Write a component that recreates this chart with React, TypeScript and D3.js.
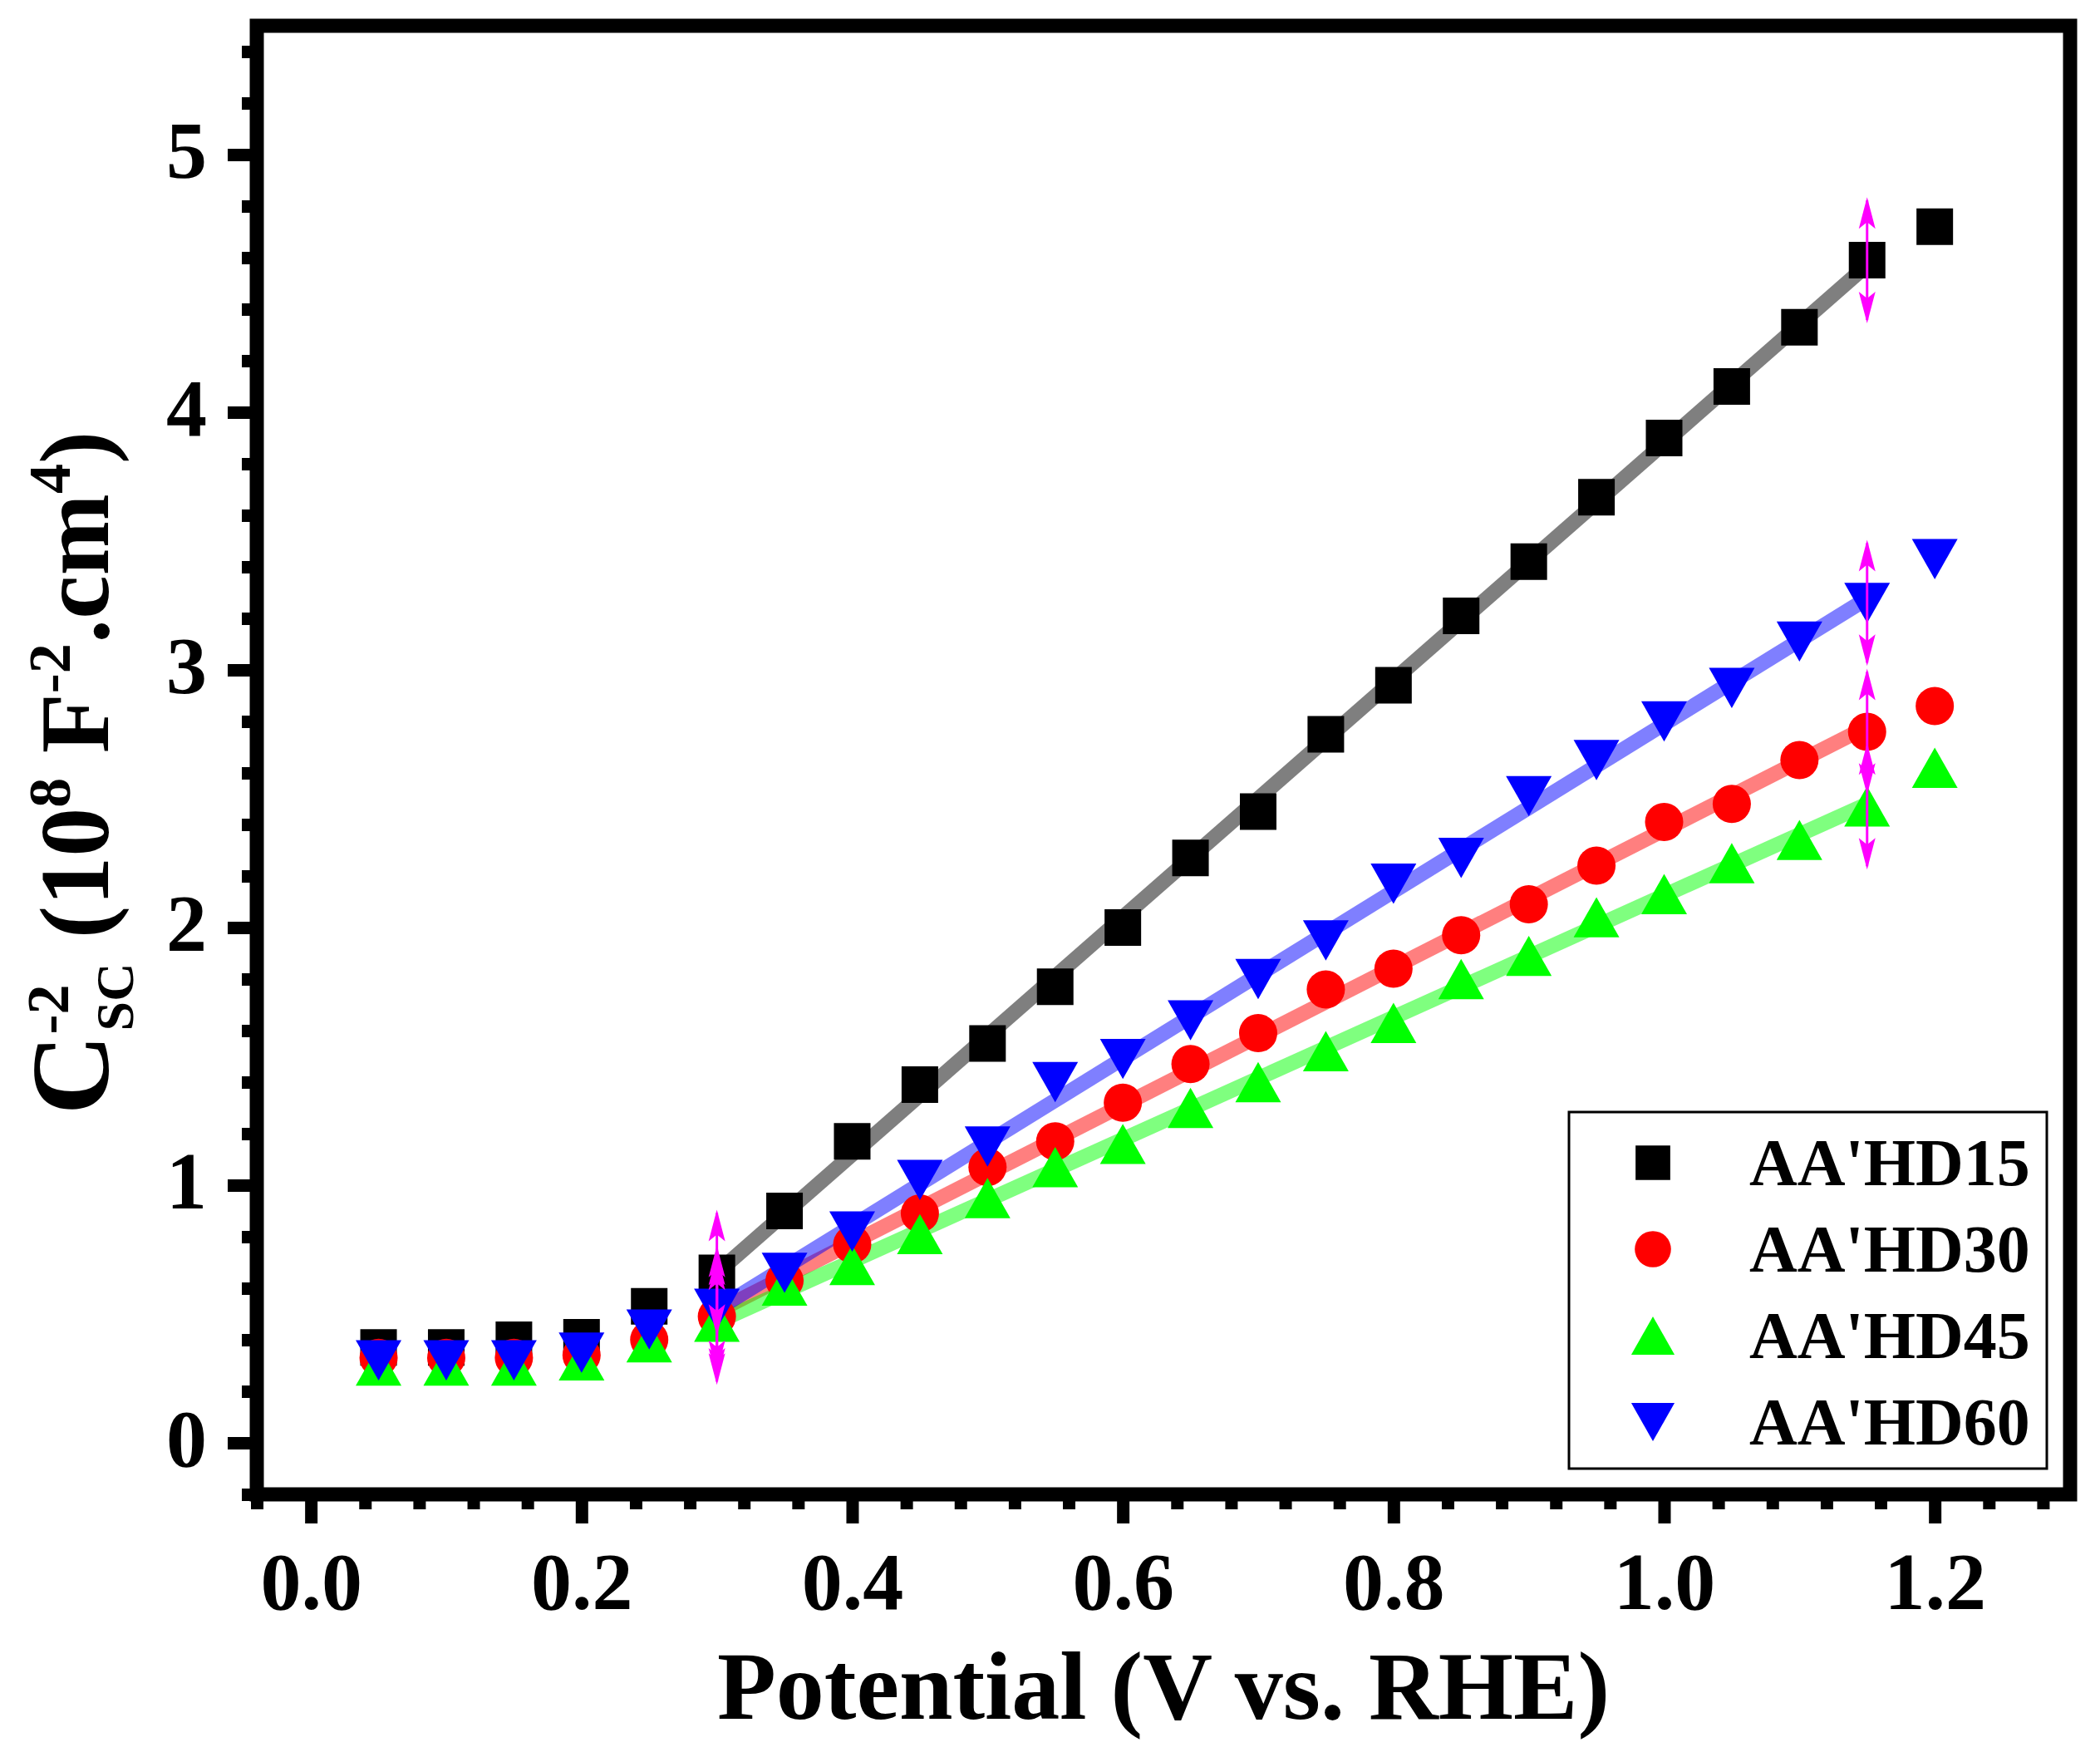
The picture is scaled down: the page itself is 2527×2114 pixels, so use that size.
import React, { useEffect, useRef } from "react";
import * as d3 from "d3";

// potential (V vs. RHE) of every measured point
const potential = [0.05, 0.10, 0.15, 0.20, 0.25, 0.30, 0.35, 0.40, 0.45, 0.50, 0.55, 0.60,
    0.65, 0.70, 0.75, 0.80, 0.85, 0.90, 0.95, 1.00, 1.05, 1.10, 1.15, 1.20];

// C_sc^-2 (10^8 F^-2 cm^4) for each sample
const hd15 = [0.37, 0.37, 0.40, 0.41, 0.53, 0.66, 0.90, 1.17, 1.39, 1.55, 1.77, 2.00,
    2.27, 2.45, 2.75, 2.94, 3.21, 3.42, 3.67, 3.90, 4.10, 4.33, 4.59, 4.72];
const hd30 = [0.33, 0.33, 0.33, 0.34, 0.40, 0.49, 0.63, 0.77, 0.89, 1.07, 1.17, 1.32,
    1.47, 1.59, 1.76, 1.84, 1.97, 2.09, 2.24, 2.41, 2.48, 2.65, 2.76, 2.86];
const hd45 = [0.30, 0.30, 0.30, 0.32, 0.39, 0.47, 0.61, 0.69, 0.81, 0.95, 1.07, 1.16,
    1.30, 1.40, 1.52, 1.63, 1.80, 1.89, 2.04, 2.13, 2.25, 2.34, 2.47, 2.62];
const hd60 = [0.32, 0.32, 0.32, 0.35, 0.44, 0.52, 0.66, 0.82, 1.02, 1.15, 1.40, 1.49,
    1.64, 1.80, 1.95, 2.17, 2.27, 2.51, 2.65, 2.80, 2.93, 3.11, 3.26, 3.43];

const seriesNames = ["AA'HD15", "AA'HD30", "AA'HD45", "AA'HD60"];
const seriesValues = [hd15, hd30, hd45, hd60];
const seriesColors = ["#000000", "#ff0000", "#00ff00", "#0000ff"];

// linear fit window (marked by the magenta arrows)
const fitRange = [0.30, 1.15];

const xTickLabels = ["0.0", "0.2", "0.4", "0.6", "0.8", "1.0", "1.2"];
const yTickLabels = ["0", "1", "2", "3", "4", "5"];

const WIDTH = 2527;
const HEIGHT = 2114;
const FONT = "'Liberation Serif', 'Times New Roman', serif";

// triangles as Origin draws them (wider than tall, centred on the bbox)
const triUp: d3.SymbolType = {
    draw(ctx, size) {
        const w = Math.sqrt(size);
        const h = w * 0.88;
        ctx.moveTo(0, -h / 2);
        ctx.lineTo(w / 2, h / 2);
        ctx.lineTo(-w / 2, h / 2);
        ctx.closePath();
    }
};
const triDown: d3.SymbolType = {
    draw(ctx, size) {
        const w = Math.sqrt(size);
        const h = w * 0.88;
        ctx.moveTo(0, h / 2);
        ctx.lineTo(w / 2, -h / 2);
        ctx.lineTo(-w / 2, -h / 2);
        ctx.closePath();
    }
};
const symbolTypes = [d3.symbolSquare, d3.symbolCircle, triUp, triDown];
const symbolSizes = [44 * 44, Math.PI * 23 * 23, 55 * 55, 55 * 55];

export default function App() {
    const svgRef = useRef<SVGSVGElement | null>(null);

    const x = d3.scaleLinear().domain([-0.04, 1.30]).range([309, 2491]);
    const y = d3.scaleLinear().domain([-0.2, 5.5]).range([1798, 31]);

    useEffect(() => {
        if (!svgRef.current) return;
        const svg = d3.select(svgRef.current);
        const plot = svg.select<SVGGElement>("g.plot");
        plot.selectAll("*").remove();

        // least-squares fit over the window
        const fits = seriesValues.map(vals => {
            const pts = potential
                .map((p, i) => [p, vals[i]])
                .filter(d => d[0] >= fitRange[0] - 1e-6 && d[0] <= fitRange[1] + 1e-6);
            const mx = d3.mean(pts, d => d[0]) as number;
            const my = d3.mean(pts, d => d[1]) as number;
            const sxy = d3.sum(pts, d => (d[0] - mx) * (d[1] - my));
            const sxx = d3.sum(pts, d => (d[0] - mx) ** 2);
            const slope = sxy / sxx;
            return { slope, intercept: my - slope * mx };
        });

        fits.forEach((f, s) => {
            plot.append("line")
                .attr("x1", x(fitRange[0]))
                .attr("y1", y(f.intercept + f.slope * fitRange[0]))
                .attr("x2", x(fitRange[1]))
                .attr("y2", y(f.intercept + f.slope * fitRange[1]))
                .attr("stroke", seriesColors[s])
                .attr("stroke-opacity", 0.5)
                .attr("stroke-width", 18);
        });

        // markers
        seriesValues.forEach((vals, s) => {
            const sym = d3.symbol().type(symbolTypes[s]).size(symbolSizes[s]);
            plot.append("g")
                .selectAll("path")
                .data(vals)
                .join("path")
                .attr("transform", (d, i) => `translate(${x(potential[i])},${y(d)})`)
                .attr("d", sym() as string)
                .attr("fill", seriesColors[s]);
        });

        // magenta double arrows at both ends of the fit window
        const half = 0.245;
        const headLen = 38;
        const headW = 20;
        fitRange.forEach(fx => {
            const idx = potential.findIndex(p => Math.abs(p - fx) < 1e-6);
            seriesValues.forEach(vals => {
                const cx = x(fx);
                const top = y(vals[idx] + half);
                const bot = y(vals[idx] - half);
                const g = plot.append("g").attr("fill", "#ff00ff").attr("stroke", "#ff00ff");
                g.append("line")
                    .attr("x1", cx).attr("x2", cx)
                    .attr("y1", top + 4).attr("y2", bot - 4)
                    .attr("stroke-width", 3);
                g.append("path")
                    .attr("stroke", "none")
                    .attr("d", `M${cx},${top}L${cx + headW / 2},${top + headLen}L${cx},${top + headLen - 8}L${cx - headW / 2},${top + headLen}Z`);
                g.append("path")
                    .attr("stroke", "none")
                    .attr("d", `M${cx},${bot}L${cx + headW / 2},${bot - headLen}L${cx},${bot - headLen + 8}L${cx - headW / 2},${bot - headLen}Z`);
            });
        });

        // axes
        const axes = svg.select<SVGGElement>("g.axes");
        axes.selectAll("*").remove();

        const xMajor = xTickLabels.map(Number);
        const yMajor = yTickLabels.map(Number);
        const xMinor = d3.range(-0.04, 1.30, 0.04).filter(v => !xMajor.some(m => Math.abs(m - v) < 1e-6));
        const yMinor = d3.range(-0.2, 5.5, 0.2).filter(v => !yMajor.some(m => Math.abs(m - v) < 1e-6));

        const styleAxis = (g: d3.Selection<SVGGElement, unknown, null, undefined>) => {
            g.select(".domain").remove();
            g.selectAll("line").attr("stroke", "#000").attr("stroke-width", 15);
            g.attr("font-family", FONT).attr("font-size", 98).attr("font-weight", "bold");
            g.selectAll("text").attr("fill", "#000");
        };

        const xg = axes.append("g").attr("transform", `translate(0,${y(-0.2)})`);
        xg.append("g")
            .call(d3.axisBottom(x).tickValues(xMinor).tickSize(18).tickFormat(() => ""))
            .call(styleAxis);
        xg.append("g")
            .call(d3.axisBottom(x).tickValues(xMajor).tickSize(35).tickFormat((d, i) => xTickLabels[i]))
            .call(styleAxis)
            .selectAll("text")
            .attr("y", 138)
            .attr("dy", 0);

        const yg = axes.append("g").attr("transform", `translate(${x(-0.04)},0)`);
        yg.append("g")
            .call(d3.axisLeft(y).tickValues(yMinor).tickSize(18).tickFormat(() => ""))
            .call(styleAxis);
        yg.append("g")
            .call(d3.axisLeft(y).tickValues(yMajor).tickSize(35).tickFormat((d, i) => yTickLabels[i]))
            .call(styleAxis)
            .selectAll("text")
            .attr("x", -60)
            .attr("dy", 27);

        // legend symbols
        const legend = svg.select<SVGGElement>("g.legend-symbols");
        legend.selectAll("*").remove();
        seriesNames.forEach((name, s) => {
            legend.append("path")
                .attr("transform", `translate(1989,${1399 + s * 104})`)
                .attr("d", d3.symbol().type(symbolTypes[s]).size(symbolSizes[s] * 0.9)() as string)
                .attr("fill", seriesColors[s]);
        });
    }, []);

    const x0 = x(-0.04), x1 = x(1.30), y0 = y(5.5), y1 = y(-0.2);

    return (
        <svg
            ref={svgRef}
            width={WIDTH}
            height={HEIGHT}
            viewBox={`0 0 ${WIDTH} ${HEIGHT}`}
            style={{ position: "absolute", left: 0, top: 0, background: "#fff" }}
        >
            <rect x={0} y={0} width={WIDTH} height={HEIGHT} fill="#fff" />
            <g className="plot" />
            <g className="axes" />
            <rect x={x0} y={y0} width={x1 - x0} height={y1 - y0}
                fill="none" stroke="#000" strokeWidth={17} />

            {/* legend */}
            <rect x={1888} y={1338} width={575} height={429} fill="#fff" stroke="#000" strokeWidth={3} />
            <g className="legend-symbols" />
            {seriesNames.map((name, s) => (
                <text key={name} x={2105} y={1426 + s * 104} fontFamily={FONT}
                    fontSize={80} fontWeight="bold" fill="#000">{name}</text>
            ))}

            {/* x title */}
            <text x={1400} y={2068} textAnchor="middle" fontFamily={FONT} fontSize={116}
                fontWeight="bold" fill="#000">Potential (V vs. RHE)</text>

            {/* y title */}
            <text transform="translate(130,930) rotate(-90)" textAnchor="middle" fontFamily={FONT}
                fontSize={118} fontWeight="bold" fill="#000">
                <tspan fontSize={134}>C</tspan>
                <tspan fontSize={72} dy={-48}>-2</tspan>
                <tspan fontSize={64} dx={-56} dy={78}>SC</tspan>
                <tspan dy={-30}>{" (10"}</tspan>
                <tspan fontSize={72} dy={-46}>8</tspan>
                <tspan dy={46}>{" F"}</tspan>
                <tspan fontSize={72} dy={-46}>-2</tspan>
                <tspan dy={46}>.cm</tspan>
                <tspan fontSize={72} dy={-46}>4</tspan>
                <tspan dy={46}>)</tspan>
            </text>
        </svg>
    );
}
